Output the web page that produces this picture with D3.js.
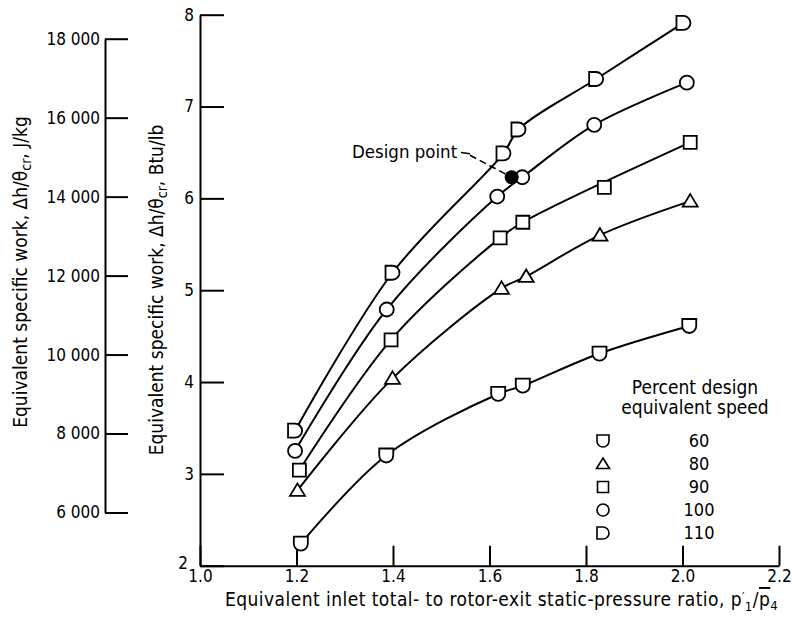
<!DOCTYPE html>
<html>
<head>
<meta charset="utf-8">
<script src="https://cdn.jsdelivr.net/npm/d3@7"></script>
<style>
  html, body { margin: 0; padding: 0; background: #fff; }
  svg { display: block; }
  text { font-family: "DejaVu Sans Condensed", "Liberation Sans Narrow", "DejaVu Sans", sans-serif; fill: #000; }
</style>
</head>
<body>
<svg id="chart" width="792" height="618"></svg>
<script>
// ---------------- data ----------------
const xTicks = [1.0, 1.2, 1.4, 1.6, 1.8, 2.0, 2.2];
const xTickLabels = ["1.0", "1.2", "1.4", "1.6", "1.8", "2.0", "2.2"];
const yTicks = [2, 3, 4, 5, 6, 7, 8];
const yTickLabels = ["2", "3", "4", "5", "6", "7", "8"];
const jTicks = [6000, 8000, 10000, 12000, 14000, 16000, 18000];
const jTickLabels = ["6 000", "8 000", "10 000", "12 000", "14 000", "16 000", "18 000"];
const JKG_PER_BTULB = 2326;

const speeds = [60, 80, 90, 100, 110];
const ratio60  = [1.209, 1.386, 1.618, 1.669, 1.828, 2.014];
const work60   = [2.24, 3.20, 3.87, 3.96, 4.31, 4.61];
const ratio80  = [1.202, 1.399, 1.625, 1.676, 1.829, 2.016];
const work80   = [2.82, 4.04, 5.02, 5.15, 5.60, 5.97];
const ratio90  = [1.206, 1.396, 1.622, 1.669, 1.838, 2.016];
const work90   = [3.04, 4.46, 5.57, 5.74, 6.12, 6.61];
const ratio100 = [1.197, 1.387, 1.616, 1.668, 1.817, 2.009];
const work100  = [3.25, 4.79, 6.02, 6.23, 6.80, 7.26];
const ratio110 = [1.197, 1.399, 1.629, 1.660, 1.821, 2.002];
const work110  = [3.47, 5.19, 6.49, 6.75, 7.30, 7.91];
// points the faired curve does not pass through (index per speed)
const offFairing = {90: [4]};

const designRatio = 1.646;
const designWork = 6.23;
const designLabel = "Design point";

const legendTitle = ["Percent design", "equivalent speed"];
const xTitle = "Equivalent inlet total- to rotor-exit static-pressure ratio,";
const yTitleMain = "Equivalent specific work,";
const yUnitMain = "Btu/lb";
const yUnitLeft = "J/kg";

// ---------------- build ----------------
const seriesRatios = {60: ratio60, 80: ratio80, 90: ratio90, 100: ratio100, 110: ratio110};
const seriesWorks  = {60: work60, 80: work80, 90: work90, 100: work100, 110: work110};
const series = speeds.map(s => ({
  speed: s,
  points: seriesRatios[s].map((r, i) => ({x: r, y: seriesWorks[s][i], i}))
}));

const svg = d3.select("#chart");
const x = d3.scaleLinear().domain([1.0, 2.2]).range([200, 779]);
const y = d3.scaleLinear().domain([2, 8]).range([565.7, 14.7]);
const yJ = d3.scaleLinear()
  .domain([jTicks[0], jTicks[jTicks.length - 1]])
  .range([y(jTicks[0] / JKG_PER_BTULB), y(jTicks[jTicks.length - 1] / JKG_PER_BTULB)]);

const FS = 17;     // tick labels
const FT = 19;     // titles

function styleAxis(g) {
  g.selectAll("path.domain").attr("stroke", "#000").attr("stroke-width", 2);
  g.selectAll(".tick line").attr("stroke", "#000").attr("stroke-width", 2);
  g.selectAll(".tick text").attr("font-family", null).attr("font-size", FS);
  g.attr("font-family", null).attr("font-size", FS);
}

// main y axis (Btu/lb)
const gy = svg.append("g")
  .attr("transform", `translate(${x(1.0)},0)`)
  .call(d3.axisLeft(y).tickValues(yTicks).tickFormat((d, i) => yTickLabels[i])
    .tickSizeInner(-24).tickSizeOuter(0).tickPadding(6))
  .call(styleAxis);
gy.selectAll(".tick text").filter(d => d === 2).attr("x", -12).attr("dy", "0.15em");

// x axis
svg.append("g")
  .attr("transform", `translate(0,${y(2)})`)
  .call(d3.axisBottom(x).tickValues(xTicks).tickFormat((d, i) => xTickLabels[i])
    .tickSizeInner(-20).tickSizeOuter(0).tickPadding(4))
  .call(styleAxis);

// left axis (J/kg)
svg.append("g")
  .attr("transform", "translate(105,0)")
  .call(d3.axisLeft(yJ).tickValues(jTicks).tickFormat((d, i) => jTickLabels[i])
    .tickSizeInner(-23).tickSizeOuter(0).tickPadding(5))
  .call(styleAxis);

// axis titles
function yTitle(cx, cy, unit) {
  const t = svg.append("text")
    .attr("transform", `translate(${cx},${cy}) rotate(-90)`)
    .attr("text-anchor", "middle")
    .attr("font-size", FT);
  t.append("tspan").text(yTitleMain + "  Δh/θ");
  t.append("tspan").attr("font-size", 14).attr("dy", 4).text("cr");
  t.append("tspan").attr("dy", -4).text(",  " + unit);
}
yTitle(27, 272, yUnitLeft);
yTitle(163, 290, yUnitMain);

const xt = svg.append("text")
  .attr("x", 225).attr("y", 606)
  .attr("font-size", FT)
  .attr("letter-spacing", 0.45);
xt.append("tspan").text(xTitle + "  p");
xt.append("tspan").attr("font-size", 12).attr("dy", -5).text("′");
xt.append("tspan").attr("font-size", 13).attr("dy", 10).text("1");
xt.append("tspan").attr("dy", -5).text("/");
xt.append("tspan").style("text-decoration", "overline").text("p");
xt.append("tspan").attr("font-size", 13).attr("dy", 4).text("4");

// faired curves
const line = d3.line().x(d => x(d.x)).y(d => y(d.y)).curve(d3.curveCatmullRom.alpha(0.5));
svg.append("g").selectAll("path").data(series).join("path")
  .attr("d", s => line(s.points.filter(p => !(offFairing[s.speed] || []).includes(p.i))))
  .attr("fill", "none").attr("stroke", "#000").attr("stroke-width", 2);

// marker shapes
function markerPath(speed, h) {
  switch (speed) {
    case 60:  return `M${-h},${-h}H${h}V0A${h},${h} 0 0 1 ${-h},0Z`;
    case 80:  return `M0,${-h}L${h + 0.5},${h - 1.5}L${-h - 0.5},${h - 1.5}Z`;
    case 90:  return `M${-h + 0.5},${-h + 0.5}H${h - 0.5}V${h - 0.5}H${-h + 0.5}Z`;
    case 100: return `M${h},0A${h},${h} 0 1 1 ${-h},0A${h},${h} 0 1 1 ${h},0Z`;
    case 110: return `M${-h},${-h}H0A${h},${h} 0 0 1 0,${h}H${-h}Z`;
  }
}

// design point leader
const lead = svg.append("g").attr("fill", "none").attr("stroke", "#000").attr("stroke-width", 1.6);
lead.append("path").attr("d", `M${x(1.541)},${y(6.50)}L${x(1.5595)},${y(6.485)}`);
lead.append("path").attr("d", `M${x(1.5595)},${y(6.47)}L${x(designRatio)},${y(designWork)}`)
  .attr("stroke-dasharray", "7,4");
svg.append("text").attr("x", x(1.315)).attr("y", y(6.44)).attr("font-size", 18.5).text(designLabel);

// markers
const mg = svg.append("g");
series.forEach(s => {
  mg.selectAll(null).data(s.points).join("path")
    .attr("transform", d => `translate(${x(d.x)},${y(d.y)})`)
    .attr("d", markerPath(s.speed, 7))
    .attr("fill", "#fff").attr("stroke", "#000").attr("stroke-width", 1.8);
});
svg.append("circle").attr("cx", x(designRatio)).attr("cy", y(designWork)).attr("r", 7).attr("fill", "#000");

// legend
const lg = svg.append("g");
legendTitle.forEach((t, i) => lg.append("text").attr("x", 695).attr("y", 394 + i * 20)
  .attr("text-anchor", "middle").attr("font-size", FT).text(t));
speeds.forEach((s, i) => {
  const cy = 441 + i * 23;
  lg.append("path").attr("transform", `translate(603,${cy})`).attr("d", markerPath(s, 6))
    .attr("fill", "#fff").attr("stroke", "#000").attr("stroke-width", 1.6);
  lg.append("text").attr("x", 699).attr("y", cy).attr("dy", "0.36em")
    .attr("text-anchor", "middle").attr("font-size", FS + 1).text(s);
});
</script>
</body>
</html>
